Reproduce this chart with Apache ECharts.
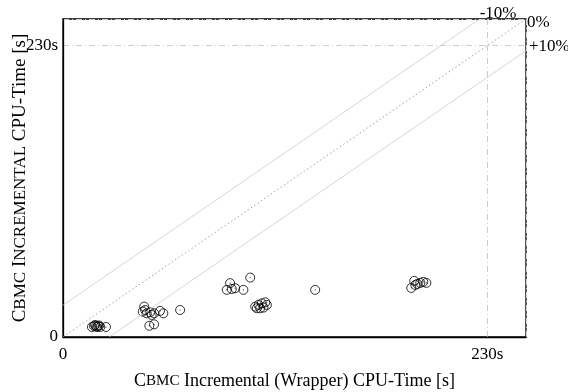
<!DOCTYPE html>
<html><head><meta charset="utf-8">
<script src="https://cdn.jsdelivr.net/npm/echarts@6/dist/echarts.min.js"></script>
<style>html,body{margin:0;padding:0;background:#fff}#c{width:568px;height:392px}</style>
</head><body><div id="c"></div>
<script>
// Wrapper CPU time (x) and Incremental CPU time (y), seconds
const wrapperTimes = [15.7,16.8,17.4,17.9,18.5,19.0,19.6,20.2,23.3,
  44.0,43.2,44.5,45.4,47.2,48.1,49.4,52.6,54.4,46.8,49.4,63.5,
  90.6,88.8,91.5,93.3,97.8,101.5,
  104.2,106.0,107.8,109.7,110.5,106.9,108.7,105.1,
  136.7,
  188.8,190.4,192.1,193.7,195.3,197.0,191.0];
const incrementalTimes = [7.9,8.7,9.5,8.3,7.9,8.7,9.1,7.9,7.9,
  24.0,20.0,21.3,18.7,19.5,17.4,18.7,20.6,18.7,8.9,10.0,21.3,
  42.5,37.2,37.9,38.5,37.2,46.9,
  24.0,25.3,26.6,27.4,25.3,22.7,23.2,22.7,
  37.2,
  38.7,44.3,41.9,42.7,43.5,42.7,41.1];
const tickValues = [0, 230];
const tickLabels = ['0', '230s'];
const axisMax = 251;
const diagLabels = ['-10%', '0%', '+10%'];

const off = axisMax * 0.1;
const points = wrapperTimes.map((x, i) => [x, incrementalTimes[i]]);
const serif = 'Liberation Serif';
const fmt = v => { const i = tickValues.indexOf(v); return i >= 0 ? tickLabels[i] : ''; };
const rich = {
  big: {fontFamily: serif, fontSize: 18, color: '#000'},
  sc: {fontFamily: serif, fontSize: 15, color: '#000'}
};
const richY = {
  big: {fontFamily: serif, fontSize: 19, color: '#000'},
  sc: {fontFamily: serif, fontSize: 17, color: '#000'}
};

const chart = echarts.init(document.getElementById('c'), null, {renderer: 'canvas'});
chart.setOption({
  animation: false,
  backgroundColor: '#fff',
  grid: {left: 63, right: 42, top: 19, bottom: 55, show: true, borderColor: '#000', borderWidth: 1.3,
         backgroundColor: 'transparent', containLabel: false, outerBoundsMode: 'none'},
  xAxis: {
    type: 'value', min: 0, max: axisMax, interval: 230,
    name: '{big|C}{sc|BMC}{big| Incremental (Wrapper) CPU-Time [s]}',
    nameLocation: 'middle', nameGap: 35, nameMoveOverlap: false,
    nameTextStyle: {rich: rich},
    axisLine: {show: true, lineStyle: {color: '#000', width: 1.3}},
    axisTick: {show: false},
    axisLabel: {formatter: fmt, fontFamily: serif, fontSize: 17, color: '#000', margin: 9, showMaxLabel: false},
    splitLine: {show: true, lineStyle: {color: '#ccc', width: 1, type: [6, 3, 1, 3]}}
  },
  yAxis: {
    type: 'value', min: 0, max: axisMax, interval: 230,
    name: '{big|C}{sc|BMC}{big| I}{sc|NCREMENTAL}{big| CPU-Time [s]}',
    nameLocation: 'middle', nameGap: 33, nameMoveOverlap: false,
    nameTextStyle: {rich: richY},
    axisLine: {show: true, lineStyle: {color: '#000', width: 1.3}},
    axisTick: {show: false},
    axisLabel: {formatter: fmt, fontFamily: serif, fontSize: 17, color: '#000', margin: 5, showMaxLabel: false},
    splitLine: {show: true, lineStyle: {color: '#ccc', width: 1, type: [6, 3, 1, 3]}}
  },
  series: [
    {type: 'line', data: [[0, off], [axisMax - off, axisMax]], symbol: 'none', silent: true,
     lineStyle: {color: '#ccc', width: 0.8},
     endLabel: {show: true, formatter: diagLabels[0], fontFamily: serif, fontSize: 17, color: '#000', offset: [-8, -5]}},
    {type: 'line', data: [[0, 0], [axisMax, axisMax]], symbol: 'none', silent: true,
     lineStyle: {color: '#888', width: 0.8, type: [1.5, 2.5]},
     endLabel: {show: true, formatter: diagLabels[1], fontFamily: serif, fontSize: 17, color: '#000', offset: [-7, 4]}},
    {type: 'line', data: [[off, 0], [axisMax, axisMax - off]], symbol: 'none', silent: true,
     lineStyle: {color: '#ccc', width: 0.8},
     endLabel: {show: true, formatter: diagLabels[2], fontFamily: serif, fontSize: 17, color: '#000', offset: [-5, -4]}},
    {type: 'scatter', data: points, symbol: 'circle', symbolSize: 9,
     itemStyle: {color: 'transparent', borderColor: '#000', borderWidth: 1}},
    {type: 'scatter', data: points, symbol: 'circle', symbolSize: 1.2,
     itemStyle: {color: '#000'}}
  ]
});
</script></body></html>
